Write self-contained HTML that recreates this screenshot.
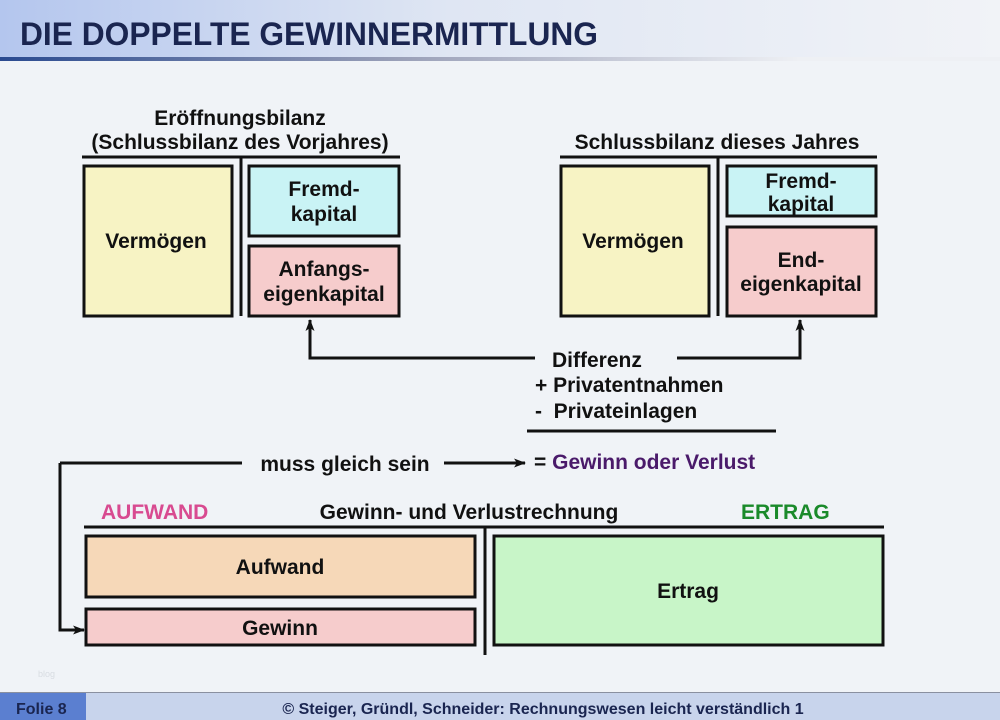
<!DOCTYPE html>
<html><head><meta charset="utf-8"><style>
html,body{margin:0;padding:0;width:1000px;height:720px;overflow:hidden;background:#f0f3f7}
svg{display:block}
text{font-family:"Liberation Sans",sans-serif;font-weight:bold;font-size:21px;fill:#111}
</style></head><body>
<svg width="1000" height="720" viewBox="0 0 1000 720" xmlns="http://www.w3.org/2000/svg">
<defs>
<linearGradient id="hg" x1="0" x2="1"><stop offset="0" stop-color="#b4c6ee"/><stop offset="0.45" stop-color="#dfe6f3"/><stop offset="1" stop-color="#f1f3f7"/></linearGradient>
<linearGradient id="ug" x1="0" x2="1"><stop offset="0" stop-color="#2a4a90"/><stop offset="0.4" stop-color="#9aa0b8"/><stop offset="0.8" stop-color="#eef0f4"/></linearGradient>
<marker id="ar" markerWidth="12" markerHeight="9" refX="11" refY="4.5" orient="auto" markerUnits="userSpaceOnUse"><path d="M0,0 L12,4.5 L0,9 L3,4.5 Z" fill="#111"/></marker>
</defs>
<rect x="0" y="0" width="1000" height="58" fill="url(#hg)"/>
<rect x="0" y="57" width="1000" height="4" fill="url(#ug)"/>
<text x="20" y="45" style="font-size:32px;fill:#1a2550" textLength="578" lengthAdjust="spacingAndGlyphs">DIE DOPPELTE GEWINNERMITTLUNG</text>

<g stroke="#111" stroke-width="3" fill="none">
<line x1="82" y1="157" x2="400" y2="157"/><line x1="241" y1="157" x2="241" y2="316"/>
<line x1="560" y1="157" x2="877" y2="157"/><line x1="718" y1="157" x2="718" y2="316"/>
<rect x="84" y="166" width="148" height="150" fill="#f7f3c4"/>
<rect x="249" y="166" width="150" height="70" fill="#c9f3f5"/>
<rect x="249" y="246" width="150" height="70" fill="#f6cccc"/>
<rect x="561" y="166" width="148" height="150" fill="#f7f3c4"/>
<rect x="727" y="166" width="149" height="50" fill="#c9f3f5"/>
<rect x="727" y="227" width="149" height="89" fill="#f6cccc"/>
<polyline points="535,358 310,358 310,320" marker-end="url(#ar)"/>
<polyline points="677,358 800,358 800,320" marker-end="url(#ar)"/>
<line x1="527" y1="431" x2="776" y2="431"/>
<line x1="242" y1="463" x2="60" y2="463"/>
<polyline points="60,463 60,630 84,630" marker-end="url(#ar)"/>
<line x1="444" y1="463" x2="525" y2="463" marker-end="url(#ar)"/>
<line x1="84" y1="527" x2="884" y2="527"/>
<line x1="485" y1="527" x2="485" y2="655"/>
<rect x="86" y="536" width="389" height="61" fill="#f6d8b8"/>
<rect x="86" y="609" width="389" height="36" fill="#f6cccc"/>
<rect x="494" y="536" width="389" height="109" fill="#c8f5c8"/>
</g>

<g text-anchor="middle">
<text x="240" y="125">Eröffnungsbilanz</text>
<text x="240" y="149">(Schlussbilanz des Vorjahres)</text>
<text x="717" y="149">Schlussbilanz dieses Jahres</text>
<text x="156" y="248">Vermögen</text>
<text x="324" y="196">Fremd-</text>
<text x="324" y="221">kapital</text>
<text x="324" y="276">Anfangs-</text>
<text x="324" y="301">eigenkapital</text>
<text x="633" y="248">Vermögen</text>
<text x="801" y="188">Fremd-</text>
<text x="801" y="211">kapital</text>
<text x="801" y="267">End-</text>
<text x="801" y="291">eigenkapital</text>
<text x="345" y="471">muss gleich sein</text>
<text x="469" y="519">Gewinn- und Verlustrechnung</text>
<text x="280" y="574">Aufwand</text>
<text x="280" y="635">Gewinn</text>
<text x="688" y="598">Ertrag</text>
</g>
<text x="552" y="367">Differenz</text>
<text x="535" y="392">+ Privatentnahmen</text>
<text x="535" y="418" xml:space="preserve">-  Privateinlagen</text>
<text x="534" y="469">= <tspan style="fill:#4a1a6a">Gewinn oder Verlust</tspan></text>
<text x="101" y="519" style="fill:#d84a90">AUFWAND</text>
<text x="741" y="519" style="fill:#1a8a2a">ERTRAG</text>
<text x="38" y="677" style="font-size:9px;font-weight:normal;fill:#d8dce2">blog</text>

<rect x="0" y="692" width="1000" height="1" fill="#8a90a0"/>
<rect x="0" y="693" width="1000" height="27" fill="#c8d4ec"/>
<rect x="0" y="693" width="86" height="27" fill="#5b7fd0"/>
<text x="16" y="714" style="font-size:16px;fill:#1a2550">Folie 8</text>
<text x="543" y="714" text-anchor="middle" style="font-size:16px;fill:#1a2550">© Steiger, Gründl, Schneider: Rechnungswesen leicht verständlich 1</text>
</svg>
</body></html>
